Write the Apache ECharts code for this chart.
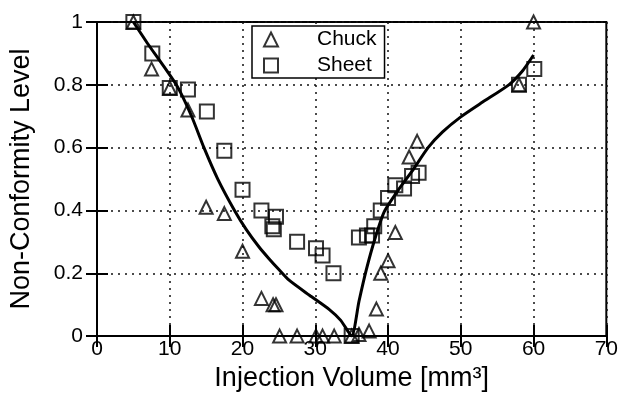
<!DOCTYPE html>
<html lang="en" style="height: 100%">
<head>
  <meta charset="utf-8">
</head>
<body style="height: 100%; margin: 0; background: #fff">
<div id="container" style="width: 621px; height: 397px"></div>

<script type="text/javascript" src="https://cdn.jsdelivr.net/npm/echarts@6/dist/echarts.min.js"></script>

<script type="text/javascript">
  var chuckX = [5, 7.5, 10, 12.5, 15, 17.5, 20, 22.6, 24.2, 24.6, 25.1, 27.5, 30.1, 31, 32.6, 35, 36, 37.4, 38.4, 39, 40, 41, 42.9, 44, 58, 60];
  var chuckY = [1, 0.85, 0.79, 0.72, 0.41, 0.39, 0.27, 0.12, 0.10, 0.10, 0, 0, 0, 0, 0, 0, 0.005, 0.016, 0.086, 0.2, 0.24, 0.33, 0.57, 0.62, 0.8, 1];

  var sheetX = [5, 7.6, 10, 12.5, 15.1, 17.5, 20, 22.6, 24.1, 24.3, 24.6, 27.5, 30.1, 31, 32.5, 35, 36, 37.1, 37.8, 38.1, 39, 40, 41, 42.2, 43.3, 44.2, 58, 60.1];
  var sheetY = [1, 0.9, 0.79, 0.785, 0.715, 0.59, 0.466, 0.40, 0.35, 0.34, 0.38, 0.30, 0.28, 0.257, 0.20, 0, 0.314, 0.32, 0.32, 0.35, 0.40, 0.44, 0.48, 0.47, 0.51, 0.52, 0.80, 0.85];

  // fitted curve
  var fitX = [5, 7, 10.9, 13, 14.7, 16.6, 18.9, 20.5, 22.3, 23.7, 25, 26.4, 29.2, 31.9, 33.5, 35, 36, 37, 38.2, 39.5, 41.4, 43.3, 45.5, 47.5, 50, 53, 56.6, 58.5, 60];
  var fitY = [1, 0.93, 0.8, 0.7, 0.6, 0.5, 0.4, 0.34, 0.283, 0.245, 0.212, 0.178, 0.13, 0.085, 0.05, 0, 0.11, 0.21, 0.31, 0.397, 0.465, 0.525, 0.6, 0.65, 0.698, 0.745, 0.8, 0.845, 0.895];

  var xTicks = [0, 10, 20, 30, 40, 50, 60, 70];
  var yTicks = [0, 0.2, 0.4, 0.6, 0.8, 1];

  function pairs(xs, ys) {
    return xs.map(function (x, i) { return [x, ys[i]]; });
  }

  var dom = document.getElementById('container');
  var myChart = echarts.init(dom, null, { renderer: 'canvas' });

  var font = 'Liberation Sans, Arial, sans-serif';
  var hollow = { color: 'rgba(0,0,0,0)', borderColor: '#000', borderWidth: 2 };
  var tickStyle = { show: true, inside: true, length: 11, lineStyle: { color: '#000', width: 2 } };

  var option = {
    animation: false,
    backgroundColor: '#fff',
    grid: { left: 97, right: 13, top: 22, bottom: 60, show: true, borderColor: '#000', borderWidth: 2 },
    legend: {
      orient: 'vertical',
      left: 252,
      top: 26,
      padding: [3, 8, 2, 11],
      itemGap: 5,
      itemWidth: 14,
      itemHeight: 14,
      backgroundColor: '#fff',
      borderColor: '#000',
      borderWidth: 1.5,
      borderRadius: 0,
      textStyle: { fontFamily: font, fontSize: 21, color: '#000', padding: [0, 0, 0, 34] },
      data: ['Chuck', 'Sheet']
    },
    xAxis: [{
      type: 'value',
      min: xTicks[0],
      max: xTicks[xTicks.length - 1],
      interval: 10,
      name: 'Injection Volume [mm³]',
      nameLocation: 'middle',
      nameGap: 24,
      nameTextStyle: { fontFamily: font, fontSize: 27, color: '#000' },
      axisLine: { lineStyle: { color: '#000', width: 2 } },
      axisTick: tickStyle,
      axisLabel: { fontFamily: font, fontSize: 21, color: '#000', margin: 3 },
      splitLine: { show: true, lineStyle: { color: '#111', width: 1.5, type: [2, 5] } }
    }, {
      type: 'value',
      position: 'top',
      min: xTicks[0],
      max: xTicks[xTicks.length - 1],
      interval: 10,
      axisLine: { lineStyle: { color: '#000', width: 2 } },
      axisTick: tickStyle,
      axisLabel: { show: false },
      splitLine: { show: false }
    }],
    yAxis: [{
      type: 'value',
      min: yTicks[0],
      max: yTicks[yTicks.length - 1],
      interval: 0.2,
      name: 'Non-Conformity Level',
      nameLocation: 'middle',
      nameGap: 62,
      nameTextStyle: { fontFamily: font, fontSize: 27, color: '#000' },
      axisLine: { lineStyle: { color: '#000', width: 2 } },
      axisTick: tickStyle,
      axisLabel: { fontFamily: font, fontSize: 21, color: '#000', margin: 14 },
      splitLine: { show: true, lineStyle: { color: '#111', width: 1.5, type: [2, 5] } }
    }, {
      type: 'value',
      position: 'right',
      min: yTicks[0],
      max: yTicks[yTicks.length - 1],
      interval: 0.2,
      axisLine: { lineStyle: { color: '#000', width: 2 } },
      axisTick: tickStyle,
      axisLabel: { show: false },
      splitLine: { show: false }
    }],
    series: [
      {
        name: 'fit',
        type: 'line',
        data: pairs(fitX, fitY),
        showSymbol: false,
        smooth: 0.2,
        lineStyle: { color: '#000', width: 3, join: 'round' },
        z: 3
      },
      {
        name: 'Chuck',
        type: 'scatter',
        symbol: 'triangle',
        symbolSize: 13,
        data: pairs(chuckX, chuckY),
        itemStyle: hollow,
        z: 4
      },
      {
        name: 'Sheet',
        type: 'scatter',
        symbol: 'rect',
        symbolSize: 14,
        data: pairs(sheetX, sheetY),
        itemStyle: hollow,
        z: 4
      }
    ]
  };

  myChart.setOption(option);
  window.addEventListener('resize', myChart.resize);
</script>
</body>
</html>
